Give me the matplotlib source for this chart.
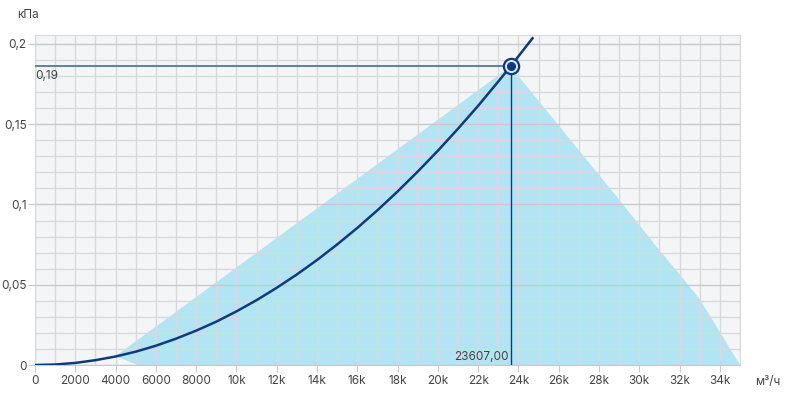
import matplotlib
matplotlib.use('Agg')
import matplotlib.pyplot as plt
from matplotlib.ticker import MultipleLocator

plt.rcParams['font.family'] = ['Inter', 'DejaVu Sans']

# system curve (m3/h, kPa)
curve_x = [0, 1000, 2000, 3000, 4000, 5000, 6000, 7000, 8000, 9000, 10000,
           11000, 12000, 13000, 14000, 15000, 16000, 17000, 18000, 19000,
           20000, 21000, 22000, 23000, 23607, 24700]
curve_y = [0, 0.0003, 0.0013, 0.0030, 0.0053, 0.0083, 0.0120, 0.0164, 0.0214,
           0.0270, 0.0334, 0.0404, 0.0481, 0.0564, 0.0654, 0.0751, 0.0854,
           0.0964, 0.1081, 0.1205, 0.1335, 0.1472, 0.1615, 0.1766, 0.186, 0.2036]

# working area of the fan
area_x = [4000, 23607, 29000, 31000, 32000, 33000, 34000, 35000, 5100]
area_y = [0.0055, 0.186, 0.103, 0.0715, 0.0565, 0.041, 0.0205, 0.0, 0.0]

work_x = 23607
work_y = 0.186
work_x_label = '23607,00'
work_y_label = '0,19'

x_ticks = list(range(0, 35000, 2000))
x_labels = ['0', '2000', '4000', '6000', '8000'] + [f'{v // 1000}k' for v in range(10000, 35000, 2000)]
y_ticks = [0, 0.05, 0.1, 0.15, 0.2]
y_labels = ['0', '0,05', '0,1', '0,15', '0,2']

navy = '#0d3b7e'
txt = '#444444'

fig = plt.figure(figsize=(7.91, 3.95), dpi=100)
ax = fig.add_axes([35 / 791, 30 / 395, 705 / 791, 330 / 395])
ax.set_facecolor('#f4f5f7')

# the area goes under the grid, everything else over it
ax.fill(area_x, area_y, color='#b3e4f3', lw=0, zorder=1)

ax.xaxis.set_minor_locator(MultipleLocator(1000))
ax.yaxis.set_minor_locator(MultipleLocator(0.01))
ax.set_axisbelow(False)
ax.grid(which='minor', color='#d9d9dd', lw=1)
ax.grid(which='major', axis='y', color='#c8c9ce', lw=1)
ax.grid(which='major', axis='x', color='#d9d9dd', lw=1)

ax.plot(curve_x, curve_y, color=navy, lw=1.8, zorder=5)
ax.plot([0, work_x], [work_y, work_y], color='#4f77a3', lw=1.3, zorder=4)
ax.plot([work_x, work_x], [0, work_y], color=navy, lw=1.0, zorder=4)
ax.plot([work_x], [work_y], 'o', ms=11, mfc='#dfe8f3', mec=navy, mew=1.6, zorder=6)
ax.plot([work_x], [work_y], 'o', ms=5.5, mfc=navy, mec=navy, zorder=7)

ax.text(20, work_y - 0.0025, work_y_label, ha='left', va='top', fontsize=8.5, color=txt, zorder=8)
ax.text(work_x - 100, 0.0015, work_x_label, ha='right', va='bottom', fontsize=8.5, color=txt, zorder=8)

ax.set_xlim(0, 35000)
ax.set_ylim(0, 0.2056)
ax.set_xticks(x_ticks)
ax.set_xticklabels(x_labels)
ax.set_yticks(y_ticks)
ax.set_yticklabels(y_labels)
ax.tick_params(which='major', length=5, color='#c8c9ce', labelsize=8.5, labelcolor=txt, pad=2)
ax.tick_params(axis='y', pad=1)
ax.tick_params(which='minor', length=0)
for s in ax.spines.values():
    s.set_color('#d9d9dd')
ax.spines['bottom'].set_color('#c8c9ce')

fig.text(17 / 791, 1 - 15 / 395, 'кПа', ha='left', va='center', fontsize=8.5, color=txt)
fig.text(755 / 791, 1 - 382 / 395, 'м³/ч', ha='left', va='center', fontsize=8.5, color=txt)

fig.savefig('out.png', dpi=100)
